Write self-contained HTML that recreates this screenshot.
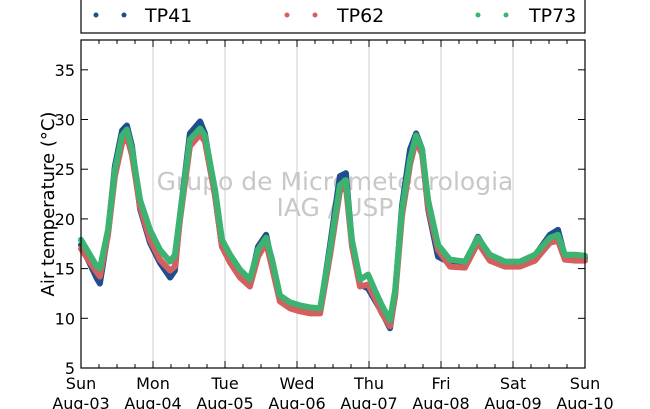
<!DOCTYPE html>
<html><head><meta charset="utf-8"><style>
body{margin:0;background:#fff;}
svg{display:block;font-family:"DejaVu Sans","Liberation Sans",sans-serif;}
</style></head><body>
<svg id="chart" width="650" height="409" viewBox="0 0 650 409">
<g id="grid"></g>
<text x="335" y="190" text-anchor="middle" font-size="25" fill="#c8c8c8">Grupo de Micrometeorologia</text>
<text x="335" y="216" text-anchor="middle" font-size="25" fill="#c8c8c8">IAG / USP</text>
<g id="series"></g>
<rect x="81" y="40" width="504" height="328" fill="none" stroke="#000" stroke-width="1.2"/>
<g id="axes"></g>
<text transform="translate(54,204) rotate(-90)" text-anchor="middle" font-size="18">Air temperature (°C)</text>
<g>
<rect x="81" y="-5" width="504" height="38" fill="#fff" stroke="#000" stroke-width="1.2"/>
<circle cx="96" cy="15" r="2.5" fill="#1f4e8c"/><circle cx="124" cy="15" r="2.5" fill="#1f4e8c"/>
<text x="145" y="22" font-size="19">TP41</text>
<circle cx="287" cy="15" r="2.5" fill="#d45f5f"/><circle cx="315" cy="15" r="2.5" fill="#d45f5f"/>
<text x="337" y="22" font-size="19">TP62</text>
<circle cx="478" cy="15" r="2.5" fill="#3cb371"/><circle cx="506" cy="15" r="2.5" fill="#3cb371"/>
<text x="529" y="22" font-size="19">TP73</text>
</g>
</svg>
<script>
const hours=[0,5.3,6.3,9,11.3,13.7,15.3,17,19.7,23,26.3,29.7,31.3,33,36.3,39.7,41.3,44.7,47,49.7,53,56.3,59,61.7,63.7,66.3,69.7,73,76.3,79.7,83,86.3,88.3,90.3,93,95.7,98,100.3,103,104.7,107,109.7,111.7,113.7,115.7,119,123,128,132.3,136.3,141.3,146.3,151.3,156.3,159,161.3,164.7,168];
const tp73=[17.9,15.2,15.0,18.9,24.9,28.4,29.0,27.0,21.9,18.9,16.9,15.7,16.4,20.4,28.0,29.1,28.4,22.9,17.9,16.4,14.9,13.9,16.9,18.1,15.9,12.3,11.6,11.3,11.1,11.0,16.9,23.4,23.9,17.9,13.9,14.4,12.8,11.3,9.8,12.8,20.9,26.0,28.4,27.0,21.9,17.4,15.9,15.7,18.1,16.4,15.7,15.7,16.4,18.1,18.4,16.4,16.4,16.3];
const tp62=[17.0,14.6,14.2,18.4,24.3,27.6,28.3,26.4,21.2,17.9,15.9,14.8,15.2,19.9,27.3,28.5,27.8,22.3,17.2,15.6,14.1,13.2,16.2,17.6,15.1,11.7,11.0,10.7,10.5,10.5,16.3,22.8,23.3,17.3,13.2,13.4,12.0,10.5,9.2,12.2,20.3,25.5,27.9,26.5,21.2,16.9,15.2,15.1,17.6,15.8,15.2,15.2,15.8,17.6,17.8,15.9,15.8,15.8];
const tp41=[17.4,14.0,13.5,18.6,25.3,28.9,29.4,27.3,21.0,17.6,15.6,14.1,14.8,20.3,28.6,29.8,28.6,22.3,17.2,15.9,14.4,13.5,17.2,18.4,15.5,12.0,11.3,11.0,10.8,10.7,17.3,24.3,24.6,17.6,13.4,13.0,11.8,10.6,9.0,12.4,21.3,27.0,28.6,27.0,21.0,16.2,15.6,15.5,18.2,16.2,15.5,15.5,16.3,18.4,18.9,16.2,16.1,16.1];
const dayNames=["Sun","Mon","Tue","Wed","Thu","Fri","Sat","Sun"];
const dayDates=["Aug-03","Aug-04","Aug-05","Aug-06","Aug-07","Aug-08","Aug-09","Aug-10"];
const yTicks=[5,10,15,20,25,30,35];

const NS="http://www.w3.org/2000/svg";
const X0=81,X1=585,Y0=368,Y1=40,TMIN=5,TMAX=38,HMAX=168;
const xs=h=>X0+(X1-X0)*h/HMAX;
const ys=t=>Y0-(Y0-Y1)*(t-TMIN)/(TMAX-TMIN);
function mk(tag,attrs,parent){const e=document.createElementNS(NS,tag);for(const k in attrs)e.setAttribute(k,attrs[k]);parent.appendChild(e);return e;}
const grid=document.getElementById('grid'),axes=document.getElementById('axes'),series=document.getElementById('series');
dayNames.forEach((d,i)=>{
  const x=xs(i*24);
  if(i>0&&i<7){const g=mk('line',{x1:x,x2:x,y1:Y1,y2:Y0,stroke:'#cccccc','stroke-width':1},grid);
  
  }
  for(const [ya,yb] of [[Y0,Y0-7],[Y1,Y1+7]]){const t=mk('line',{x1:x,x2:x,y1:ya,y2:yb,stroke:'#000'},axes);
  
  }
  if(i<7)for(let k=1;k<4;k++){const xm=xs(i*24+k*6);
    for(const [ya,yb] of [[Y0,Y0-4],[Y1,Y1+4]]){const m=mk('line',{x1:xm,x2:xm,y1:ya,y2:yb,stroke:'#000'},axes);
    
    }}
  const l1=mk('text',{x:x,y:389,'text-anchor':'middle','font-size':16},axes);l1.textContent=d;
  
  
  const l2=mk('text',{x:x,y:409,'text-anchor':'middle','font-size':16},axes);l2.textContent=dayDates[i];
  
  
});
yTicks.forEach(v=>{
  const y=ys(v);
  for(const [xa,xb] of [[X0,X0+7],[X1,X1-7]]){const t=mk('line',{x1:xa,x2:xb,y1:y,y2:y,stroke:'#000'},axes);
  
  }
  const l=mk('text',{x:75,y:y+6,'text-anchor':'end','font-size':16},axes);l.textContent=v;
  
  
});
[[tp41,'#1f4e8c','series-tp41'],[tp62,'#d45f5f','series-tp62'],[tp73,'#3cb371','series-tp73']].forEach(([vals,col,name])=>{
  const pts=hours.map((h,i)=>xs(h)+','+ys(vals[i])).join(' ');
  const p=mk('polyline',{points:pts,fill:'none',stroke:col,'stroke-width':6,'stroke-linejoin':'round','stroke-linecap':'round'},series);
  
  
});
</script>
</body></html>
